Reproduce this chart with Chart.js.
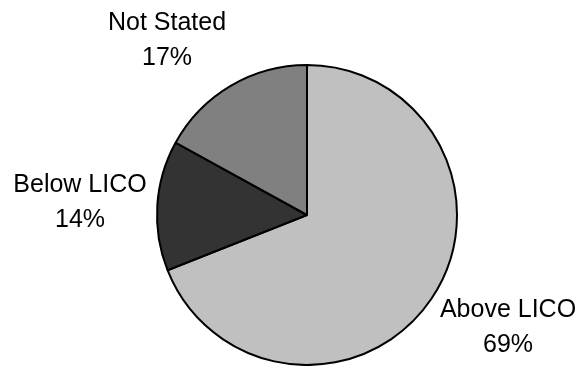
<!DOCTYPE html>
<html>
<head>
<meta charset="utf-8">
<script src="https://cdn.jsdelivr.net/npm/chart.js@4"></script>
<style>
  html, body { margin: 0; padding: 0; background: #ffffff; }
  #wrap { width: 576px; height: 366px; position: relative; }
</style>
</head>
<body>
<div id="wrap"><canvas id="pieChart"></canvas></div>
<script>
// data
const categories = ['Above LICO', 'Below LICO', 'Not Stated'];
const shares = [69, 14, 17];
const sliceColors = ['#c0c0c0', '#333333', '#808080'];

// where each text label sits, relative to the pie centre (px)
const labelOffsets = [[201, 111], [-227, -14], [-140, -176]];

// draws "name / xx%" labels next to the slices
const sliceLabels = {
    id: 'sliceLabels',
    afterDatasetsDraw(chart) {
        const ctx = chart.ctx;
        const arc = chart.getDatasetMeta(0).data[0];
        const cx = arc.x, cy = arc.y;
        ctx.save();
        ctx.font = '25px "Liberation Sans", Arial, sans-serif';
        ctx.fillStyle = '#000000';
        ctx.textAlign = 'center';
        ctx.textBaseline = 'alphabetic';
        chart.data.labels.forEach((name, i) => {
            const x = cx + labelOffsets[i][0];
            const y = cy + labelOffsets[i][1];
            ctx.fillText(name, x, y - 9);
            ctx.fillText(chart.data.datasets[0].data[i] + '%', x, y + 26);
        });
        ctx.restore();
    }
};

const ctx = document.getElementById('pieChart').getContext('2d');
new Chart(ctx, {
    type: 'pie',
    data: {
        labels: categories,
        datasets: [{
            data: shares,
            backgroundColor: sliceColors,
            borderColor: '#000000',
            borderWidth: 2,
        }],
    },
    options: {
        responsive: true,
        maintainAspectRatio: false,
        animation: false,
        radius: 150,
        rotation: 0,
        layout: {
            padding: { left: 157, right: 119, top: 64, bottom: 0 },
        },
        plugins: {
            legend: { display: false },
            tooltip: { enabled: false },
        },
    },
    plugins: [sliceLabels],
});
</script>
</body>
</html>
